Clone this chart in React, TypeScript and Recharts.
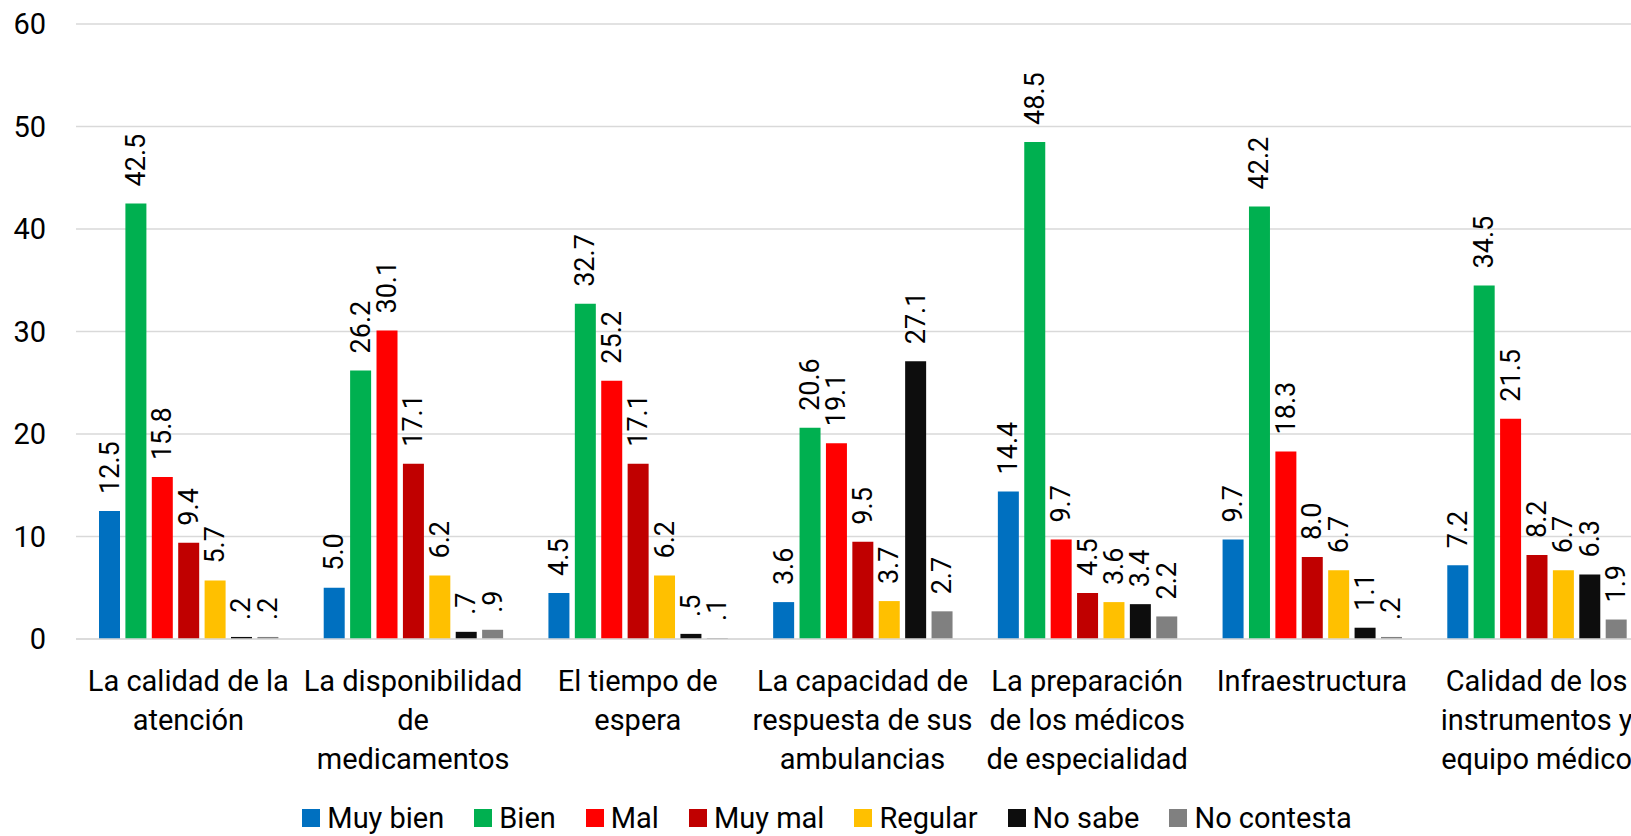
import { BarChart, Bar, XAxis, YAxis, CartesianGrid, Legend, LabelList } from 'recharts'

const categories = [
  'La calidad de la\natención',
  'La disponibilidad\nde\nmedicamentos',
  'El tiempo de\nespera',
  'La capacidad de\nrespuesta de sus\nambulancias',
  'La preparación\nde los médicos\nde especialidad',
  'Infraestructura',
  'Calidad de los\ninstrumentos y\nequipo médico',
]

const muyBien = [12.5, 5.0, 4.5, 3.6, 14.4, 9.7, 7.2]
const bien = [42.5, 26.2, 32.7, 20.6, 48.5, 42.2, 34.5]
const mal = [15.8, 30.1, 25.2, 19.1, 9.7, 18.3, 21.5]
const muyMal = [9.4, 17.1, 17.1, 9.5, 4.5, 8.0, 8.2]
const regular = [5.7, 6.2, 6.2, 3.7, 3.6, 6.7, 6.7]
const noSabe = [0.2, 0.7, 0.5, 27.1, 3.4, 1.1, 6.3]
const noContesta = [0.2, 0.9, 0.1, 2.7, 2.2, 0.2, 1.9]

const yTicks = [0, 10, 20, 30, 40, 50, 60]

const series = [
  { key: 'muyBien', name: 'Muy bien', color: '#0070C0', values: muyBien },
  { key: 'bien', name: 'Bien', color: '#00B050', values: bien },
  { key: 'mal', name: 'Mal', color: '#FF0000', values: mal },
  { key: 'muyMal', name: 'Muy mal', color: '#C00000', values: muyMal },
  { key: 'regular', name: 'Regular', color: '#FFC000', values: regular },
  { key: 'noSabe', name: 'No sabe', color: '#0D0D0D', values: noSabe },
  { key: 'noContesta', name: 'No contesta', color: '#808080', values: noContesta },
]

const data = categories.map((cat, i) => {
  const row: Record<string, string | number> = { cat }
  series.forEach((s) => {
    row[s.key] = s.values[i]
  })
  return row
})

const FONT = 'Roboto, "Noto Sans", sans-serif'

// SPSS-style labels: ".2" instead of "0.2"
const fmt = (v: number) => v.toFixed(1).replace(/^0\./, '.')

const ValueLabel = (props: any) => {
  const { x, y, width, value } = props
  const cx = x + width / 2
  const cy = y - 17
  return (
    <text
      x={cx}
      y={cy}
      transform={`rotate(-90 ${cx} ${cy})`}
      textAnchor="start"
      dominantBaseline="central"
      fontSize={27}
      fontFamily={FONT}
      fill="#000"
    >
      {fmt(Number(value))}
    </text>
  )
}

const CategoryTick = (props: any) => {
  const { x, y, payload } = props
  const lines = String(payload.value).split('\n')
  return (
    <text x={x} y={y} textAnchor="middle" fontSize={29} fontFamily={FONT} fill="#000">
      {lines.map((ln, i) => (
        <tspan key={i} x={x} dy={i === 0 ? 52 : 39}>
          {ln}
        </tspan>
      ))}
    </text>
  )
}

const LegendContent = () => (
  <div
    style={{
      display: 'flex',
      justifyContent: 'center',
      alignItems: 'center',
      height: 32,
      fontFamily: FONT,
      fontSize: 29,
      whiteSpace: 'nowrap',
    }}
  >
    {series.map((s) => (
      <div key={s.key} style={{ display: 'flex', alignItems: 'center', margin: '0 15px' }}>
        <span style={{ width: 18, height: 18, background: s.color, marginRight: 7, display: 'inline-block' }} />
        <span>{s.name}</span>
      </div>
    ))}
  </div>
)

export default function App() {
  return (
    <div
      style={{
        position: 'fixed',
        left: 0,
        top: 0,
        width: 1631,
        height: 836,
        overflow: 'hidden',
        background: '#fff',
      }}
    >
      <BarChart
        width={1682}
        height={836}
        data={data}
        margin={{ top: 24, right: 33, bottom: 2, left: 0 }}
        barSize={21}
        barGap={5.4}
      >
        <CartesianGrid vertical={false} stroke="#D9D9D9" strokeWidth={1.5} />
        <XAxis
          dataKey="cat"
          tick={<CategoryTick />}
          tickLine={false}
          tickSize={0}
          tickMargin={0}
          axisLine={{ stroke: '#D9D9D9', strokeWidth: 1.5 }}
          interval={0}
          height={163}
        />
        <YAxis
          domain={[0, 60]}
          ticks={yTicks}
          width={76}
          axisLine={false}
          tickLine={false}
          tickSize={0}
          tickMargin={30}
          tick={{ fontSize: 29, fontFamily: FONT, fill: '#000' }}
        />
        <Legend
          verticalAlign="bottom"
          content={<LegendContent />}
          wrapperStyle={{ left: -14, width: 1682, height: 32 }}
        />
        {series.map((s) => (
          <Bar
            key={s.key}
            dataKey={s.key}
            name={s.name}
            fill={s.color}
            isAnimationActive={false}
          >
            <LabelList dataKey={s.key} content={<ValueLabel />} />
          </Bar>
        ))}
      </BarChart>
    </div>
  )
}
